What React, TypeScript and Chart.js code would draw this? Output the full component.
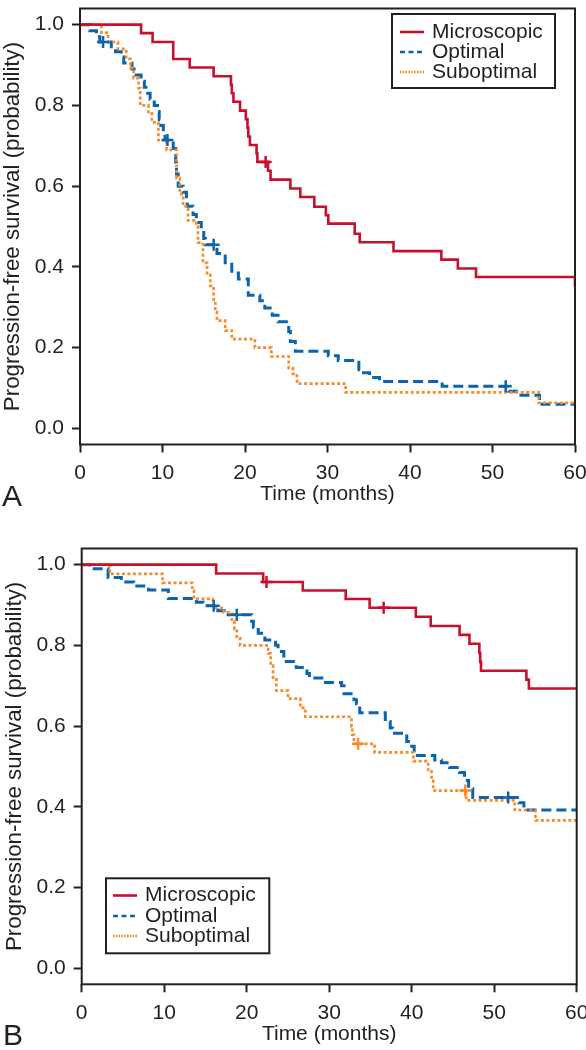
import React, { useEffect, useRef } from "react";
import { Chart, registerables } from "chart.js";

Chart.register(...registerables);

// ---------- shared labels ----------
const X_TICKS = [0, 10, 20, 30, 40, 50, 60];
const Y_TICKS = [0, 0.2, 0.4, 0.6, 0.8, 1.0];
const SERIES = ["Microscopic", "Optimal", "Suboptimal"];
const X_TITLE = "Time (months)";
const Y_TITLE = "Progression-free survival (probability)";

// ---------- Panel A ----------
const A_MICRO_T = [0, 7.4, 8.8, 11.3, 13.3, 16.2, 18.3, 18.4, 18.6, 19.4, 20.1, 20.3, 20.4, 20.6, 21.4, 21.5, 22.8, 23.1, 25.5, 26.7, 28.4, 29.8, 30.1, 33.3, 33.9, 38.0, 43.8, 45.8, 48.0, 60];
const A_MICRO_S = [1, 0.979, 0.957, 0.915, 0.894, 0.872, 0.851, 0.83, 0.809, 0.787, 0.766, 0.745, 0.723, 0.702, 0.681, 0.66, 0.638, 0.616, 0.594, 0.573, 0.549, 0.528, 0.507, 0.482, 0.461, 0.439, 0.418, 0.396, 0.375, 0.35];
const A_MICRO_CT = [22.5];
const A_MICRO_CS = [0.66];

const A_OPT_T = [0, 1.2, 2.0, 2.4, 3.8, 4.3, 5.0, 5.3, 6.3, 6.8, 7.4, 7.8, 8.2, 8.5, 9.0, 9.4, 9.6, 9.8, 10.1, 10.3, 11.3, 11.6, 11.7, 11.9, 12.5, 12.9, 13.0, 13.7, 14.1, 14.7, 15.0, 15.2, 16.6, 17.6, 18.4, 19.2, 20.4, 21.8, 22.4, 23.3, 24.0, 25.3, 25.5, 26.1, 30.1, 31.3, 33.8, 34.0, 35.1, 36.3, 43.9, 52.0, 52.9, 55.7, 60];
const A_OPT_S = [1, 0.985, 0.97, 0.957, 0.945, 0.933, 0.92, 0.905, 0.89, 0.875, 0.86, 0.845, 0.83, 0.815, 0.8, 0.785, 0.765, 0.75, 0.73, 0.714, 0.693, 0.66, 0.63, 0.6, 0.585, 0.56, 0.55, 0.53, 0.51, 0.49, 0.47, 0.455, 0.433, 0.41, 0.385, 0.37, 0.33, 0.316, 0.298, 0.28, 0.264, 0.24, 0.215, 0.191, 0.18, 0.168, 0.145, 0.138, 0.126, 0.116, 0.104, 0.092, 0.082, 0.06, 0.06];
const A_OPT_CT = [2.8, 10.6, 16.2, 51.6];
const A_OPT_CS = [0.957, 0.714, 0.455, 0.104];

const A_SUB_T = [0, 2.6, 3.4, 4.6, 5.6, 6.1, 6.5, 7.1, 7.3, 8.3, 8.7, 9.5, 10.5, 11.7, 12.1, 12.5, 13.1, 14.1, 14.3, 14.9, 15.4, 15.8, 16.2, 16.4, 16.6, 17.6, 18.4, 21.2, 23.2, 25.3, 25.8, 26.3, 32.2, 55.6, 60];
const A_SUB_S = [1, 0.98, 0.957, 0.94, 0.915, 0.893, 0.867, 0.843, 0.8, 0.78, 0.758, 0.714, 0.69, 0.62, 0.58, 0.55, 0.515, 0.5, 0.46, 0.41, 0.38, 0.353, 0.31, 0.288, 0.267, 0.242, 0.221, 0.2, 0.178, 0.15, 0.135, 0.111, 0.089, 0.063, 0.063];
const A_SUB_CT: number[] = [];
const A_SUB_CS: number[] = [];

// ---------- Panel B ----------
const B_MICRO_T = [0, 16.3, 22.0, 26.8, 32.0, 34.9, 40.5, 42.3, 45.8, 47.0, 48.2, 48.3, 48.4, 53.9, 54.2, 60];
const B_MICRO_S = [1, 0.978, 0.957, 0.936, 0.915, 0.893, 0.871, 0.848, 0.826, 0.804, 0.781, 0.759, 0.737, 0.715, 0.693, 0.693];
const B_MICRO_CT = [22.4, 36.6];
const B_MICRO_CS = [0.957, 0.893];

const B_OPT_T = [0, 1.0, 3.2, 4.8, 6.3, 8.1, 10.5, 13.9, 14.7, 16.5, 17.5, 20.6, 20.8, 21.4, 22.2, 23.5, 23.8, 24.5, 26.0, 27.3, 27.6, 29.3, 31.5, 31.8, 33.0, 33.3, 33.7, 36.8, 37.4, 37.7, 39.4, 40.0, 40.3, 42.8, 43.6, 44.6, 45.8, 46.4, 46.9, 47.4, 53.0, 53.6, 60];
const B_OPT_S = [1, 0.99, 0.968, 0.957, 0.947, 0.937, 0.916, 0.907, 0.898, 0.886, 0.876, 0.86, 0.845, 0.83, 0.813, 0.8, 0.785, 0.76, 0.745, 0.73, 0.719, 0.708, 0.7, 0.68, 0.665, 0.655, 0.633, 0.611, 0.595, 0.582, 0.562, 0.55, 0.527, 0.516, 0.509, 0.497, 0.485, 0.465, 0.445, 0.423, 0.41, 0.392, 0.392];
const B_OPT_CT = [16.0, 18.8, 51.7];
const B_OPT_CS = [0.898, 0.876, 0.423];

const B_SUB_T = [0, 3.4, 9.8, 13.4, 13.6, 15.9, 17.2, 18.2, 18.5, 18.8, 19.2, 22.6, 22.9, 23.2, 23.6, 25.0, 26.5, 27.1, 32.7, 32.8, 33.0, 35.5, 40.2, 42.0, 42.4, 42.6, 46.6, 52.5, 55.0, 60];
const B_SUB_S = [1, 0.977, 0.955, 0.935, 0.915, 0.893, 0.882, 0.86, 0.84, 0.818, 0.8, 0.78, 0.75, 0.72, 0.688, 0.668, 0.645, 0.623, 0.6, 0.578, 0.556, 0.535, 0.513, 0.488, 0.464, 0.44, 0.416, 0.392, 0.366, 0.366];
const B_SUB_CT = [33.5, 46.5];
const B_SUB_CS = [0.556, 0.44];

// ---------- styles ----------
const FONT = "'Liberation Sans', Arial, Helvetica, sans-serif";
const INK = "#231f20";
const RED = "#C8102E";
const BLUE = "#0A64AE";
const ORANGE = "#F68B2C";

const LINE_STYLES = [
  { color: RED, dash: [] as number[], width: 2.6, legendDash: [] as number[] },
  { color: BLUE, dash: [10, 5], width: 3, legendDash: [5, 3.5] },
  { color: ORANGE, dash: [3, 2.5], width: 2.7, legendDash: [1.6, 1.2] },
];

type Series = { t: number[]; s: number[]; ct: number[]; cs: number[] };

type PanelSpec = {
  letter: string;
  top: number;
  padLeft: number;
  padRight: number;
  padTop: number;
  plotBottom: number;
  series: Series[];
  legend: { x: number; y: number; w: number; h: number; x1: number; x2: number; tx: number; rows: number[] };
  letterX: number;
  letterY: number;
};

const CANVAS_W = 586;
const CANVAS_H = 510;

const decorPlugin = {
  id: "decor",
  afterDraw(chart: any, _args: any, opts: any) {
    const { ctx, chartArea: a } = chart;
    ctx.save();
    // frame
    ctx.strokeStyle = INK;
    ctx.lineWidth = 2;
    ctx.setLineDash([]);
    ctx.strokeRect(a.left, a.top, a.right - a.left, a.bottom - a.top);
    // legend
    const L = opts.legend;
    ctx.fillStyle = "#fff";
    ctx.fillRect(L.x, L.y, L.w, L.h);
    ctx.strokeStyle = INK;
    ctx.lineWidth = 2;
    ctx.strokeRect(L.x, L.y, L.w, L.h);
    L.rows.forEach((y: number, i: number) => {
      const st = LINE_STYLES[i];
      ctx.beginPath();
      ctx.setLineDash(st.legendDash);
      ctx.lineWidth = 2.6;
      ctx.strokeStyle = st.color;
      ctx.moveTo(L.x1, y);
      ctx.lineTo(L.x2, y);
      ctx.stroke();
      ctx.setLineDash([]);
      ctx.fillStyle = INK;
      ctx.font = `21px ${FONT}`;
      ctx.textBaseline = "middle";
      ctx.textAlign = "left";
      ctx.fillText(SERIES[i], L.tx, y);
    });
    // panel letter
    ctx.fillStyle = INK;
    ctx.font = `30px ${FONT}`;
    ctx.textBaseline = "alphabetic";
    ctx.textAlign = "left";
    ctx.fillText(opts.letter, opts.letterX, opts.letterY);
    ctx.restore();
  },
};

function buildConfig(p: PanelSpec): any {
  const stepSets = p.series.map((ser, i) => ({
    label: SERIES[i],
    data: ser.t.map((x, k) => ({ x, y: ser.s[k] })),
    stepped: "before",
    borderColor: LINE_STYLES[i].color,
    borderWidth: LINE_STYLES[i].width,
    borderDash: LINE_STYLES[i].dash,
    borderCapStyle: "butt",
    borderJoinStyle: "miter",
    pointRadius: 0,
    fill: false,
    tension: 0,
  }));
  const censorSets = p.series.map((ser, i) => ({
    label: SERIES[i] + " censored",
    data: ser.ct.map((x, k) => ({ x, y: ser.cs[k] })),
    showLine: false,
    pointStyle: "cross",
    pointRadius: 6,
    pointBorderWidth: 2.5,
    pointBorderColor: LINE_STYLES[i].color,
    pointBackgroundColor: LINE_STYLES[i].color,
    borderColor: LINE_STYLES[i].color,
  }));
  // draw order: censors on top, then red, orange, blue
  const datasets = [...censorSets, stepSets[0], stepSets[2], stepSets[1]];
  const xAxisH = CANVAS_H - p.plotBottom;
  return {
    type: "line",
    data: { datasets },
    plugins: [decorPlugin],
    options: {
      animation: false,
      responsive: false,
      maintainAspectRatio: false,
      devicePixelRatio: 1,
      events: [],
      layout: { padding: { left: p.padLeft, right: p.padRight, top: p.padTop, bottom: 0 } },
      plugins: {
        legend: { display: false },
        tooltip: { enabled: false },
        title: { display: false },
        decor: { legend: p.legend, letter: p.letter, letterX: p.letterX, letterY: p.letterY },
      },
      scales: {
        x: {
          type: "linear",
          min: 0,
          max: 60,
          afterBuildTicks: (s: any) => {
            s.ticks = X_TICKS.map((v) => ({ value: v }));
          },
          afterFit: (s: any) => {
            s.height = xAxisH;
            s.paddingLeft = 0;
            s.paddingRight = 0;
          },
          grid: { drawOnChartArea: false, drawTicks: true, tickLength: 8, tickWidth: 2, tickColor: INK },
          border: { display: false },
          ticks: {
            color: INK,
            font: { family: FONT, size: 21 },
            padding: 8,
            maxRotation: 0,
            autoSkip: false,
            callback: (v: any) => String(v),
          },
          title: {
            display: true,
            text: X_TITLE,
            color: INK,
            font: { family: FONT, size: 21 },
            padding: { top: 0, bottom: 3.5 },
          },
        },
        y: {
          type: "linear",
          min: -0.04,
          max: 1.04,
          afterBuildTicks: (s: any) => {
            s.ticks = Y_TICKS.map((v) => ({ value: v }));
          },
          afterFit: (s: any) => {
            s.width = 80;
            s.paddingTop = 0;
            s.paddingBottom = 0;
          },
          grid: { drawOnChartArea: false, drawTicks: true, tickLength: 8, tickWidth: 2, tickColor: INK },
          border: { display: false },
          ticks: {
            color: INK,
            font: { family: FONT, size: 21 },
            padding: 8,
            autoSkip: false,
            callback: (v: any) => Number(v).toFixed(1),
          },
          title: {
            display: true,
            text: Y_TITLE,
            color: INK,
            font: { family: FONT, size: 22.3 },
            padding: { top: -0.5, bottom: 0 },
          },
        },
      },
    },
  };
}

function Panel({ spec }: { spec: PanelSpec }) {
  const ref = useRef<HTMLCanvasElement | null>(null);
  useEffect(() => {
    if (!ref.current) return;
    const chart = new Chart(ref.current, buildConfig(spec));
    return () => chart.destroy();
  }, [spec]);
  return (
    <canvas
      ref={ref}
      width={CANVAS_W}
      height={CANVAS_H}
      style={{ position: "absolute", left: 0, top: spec.top, width: CANVAS_W, height: CANVAS_H }}
    />
  );
}

const PANEL_A: PanelSpec = {
  letter: "A",
  top: 0,
  padLeft: 0,
  padRight: 11,
  padTop: 1,
  plotBottom: 444.5,
  series: [
    { t: A_MICRO_T, s: A_MICRO_S, ct: A_MICRO_CT, cs: A_MICRO_CS },
    { t: A_OPT_T, s: A_OPT_S, ct: A_OPT_CT, cs: A_OPT_CS },
    { t: A_SUB_T, s: A_SUB_S, ct: A_SUB_CT, cs: A_SUB_CS },
  ],
  legend: { x: 392, y: 14, w: 163, h: 74, x1: 400, x2: 424, tx: 432, rows: [32, 52, 72] },
  letterX: 2,
  letterY: 506,
};

const PANEL_B: PanelSpec = {
  letter: "B",
  top: 540,
  padLeft: 1.7,
  padRight: 9.3,
  padTop: 0.7,
  plotBottom: 444.3,
  series: [
    { t: B_MICRO_T, s: B_MICRO_S, ct: B_MICRO_CT, cs: B_MICRO_CS },
    { t: B_OPT_T, s: B_OPT_S, ct: B_OPT_CT, cs: B_OPT_CS },
    { t: B_SUB_T, s: B_SUB_S, ct: B_SUB_CT, cs: B_SUB_CS },
  ],
  legend: { x: 106, y: 338.3, w: 163.3, h: 75, x1: 113, x2: 137, tx: 145, rows: [355.5, 376, 396] },
  letterX: 3,
  letterY: 505,
};

export default function App() {
  return (
    <div
      style={{
        position: "absolute",
        left: 0,
        top: 0,
        width: 586,
        height: 1050,
        background: "#fff",
        overflow: "hidden",
      }}
    >
      <Panel spec={PANEL_A} />
      <Panel spec={PANEL_B} />
    </div>
  );
}
